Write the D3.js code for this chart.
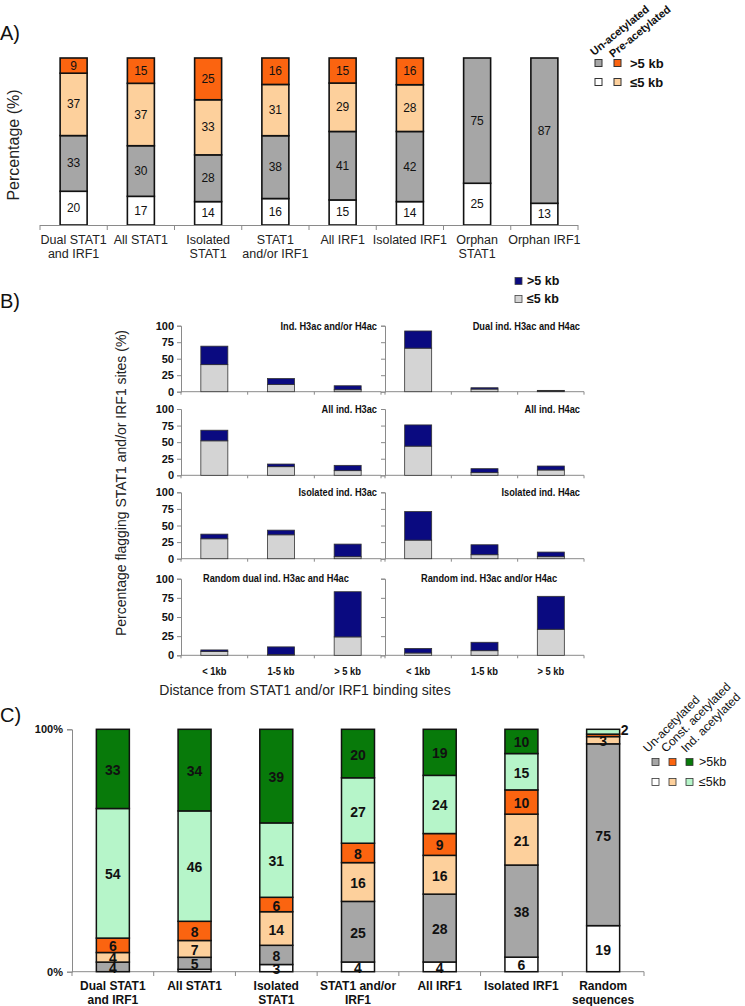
<!DOCTYPE html>
<html><head><meta charset="utf-8">
<script src="https://cdn.jsdelivr.net/npm/d3@7"></script>
<style>body{margin:0;background:#fff}svg{display:block}</style>
</head><body><svg id="c" width="745" height="1006"></svg>
<script>
// ---------------- DATA ----------------
// Panel A
const catsA = ["Dual STAT1 and IRF1","All STAT1","Isolated STAT1","STAT1 and/or IRF1","All IRF1","Isolated IRF1","Orphan STAT1","Orphan IRF1"];
const labelsA = [["Dual STAT1","and IRF1"],["All STAT1"],["Isolated","STAT1"],["STAT1","and/or IRF1"],["All IRF1"],["Isolated IRF1"],["Orphan","STAT1"],["Orphan IRF1"]];
const aUnLe5  = [20,17,14,16,15,14,25,13];
const aUnGt5  = [33,30,28,38,41,42,75,87];
const aPreLe5 = [37,37,33,31,29,28,0,0];
const aPreGt5 = [9,15,25,16,15,16,0,0];

// Panel B
const bPanels = ["Ind. H3ac and/or H4ac","Dual ind. H3ac and H4ac","All ind. H3ac","All ind. H4ac","Isolated ind. H3ac","Isolated ind. H4ac","Random dual ind. H3ac and H4ac","Random ind. H3ac and/or H4ac"];
const bDist = ["< 1kb","1-5 kb","> 5 kb"];
const bLe5 = [[41,11,3],[66,4,1],[52,13,7],[44,4,8],[30,36,3],[28,6,3],[5,1,24],[3,6,34]];
const bGt5 = [[28,9,6],[26,2,1],[16,4,8],[32,6,6],[7,7,19],[43,15,7],[2,10,59],[6,11,43]];
const bTicks = [0,25,50,75,100];

// Panel C
const catsC = ["Dual STAT1 and IRF1","All STAT1","Isolated STAT1","STAT1 and/or IRF1","All IRF1","Isolated IRF1","Random sequences"];
const labelsC = [["Dual STAT1","and IRF1"],["All STAT1"],["Isolated","STAT1"],["STAT1 and/or","IRF1"],["All IRF1"],["Isolated IRF1"],["Random","sequences"]];
const cUnLe5  = [0,1,3,4,4,6,19];
const cUnGt5  = [4,5,8,25,28,38,75];
const cConLe5 = [4,7,14,16,16,21,3];
const cConGt5 = [6,8,6,8,9,10,1];
const cIndLe5 = [54,46,31,27,24,15,2];
const cIndGt5 = [33,34,39,20,19,10,0];

// ---------------- STYLE ----------------
const COL = {white:"#ffffff", gray:"#a6a6a6", ltOrange:"#fdd09c", orange:"#fb6410",
             ltGreen:"#b6f5c9", green:"#087a0a", navy:"#0a0a80", ltGray:"#d4d4d4"};
const FA = "'Liberation Sans', Arial, sans-serif";
const AX = "#8a8a8a";
const svg = d3.select("#c");

function txt(g, x, y, s, o) {
  o = o || {};
  const t = g.append("text").attr("x", x).attr("y", y).text(s)
    .attr("font-family", o.f || FA).attr("font-size", o.s || 12)
    .attr("font-weight", o.w || "normal").attr("fill", o.c || "#111")
    .attr("text-anchor", o.a || "start")
    .attr("dominant-baseline", o.b || "auto")
    .attr("transform", o.t || null);
  if (o.n) { // condense (narrow font look)
    const L = t.node().getComputedTextLength();
    t.attr("textLength", L * o.n).attr("lengthAdjust", "spacingAndGlyphs");
  }
  return t;
}

// ---------------- PANEL A ----------------
txt(svg, 0, 40, "A)", {s:20});
const xA = d3.scaleBand().domain(catsA).range([40, 578]);
const yA = d3.scaleLinear().domain([0, 1]).range([225, 58]);
const keysA = ["unLe5","unGt5","preLe5","preGt5"];
const colA = {unLe5:COL.white, unGt5:COL.gray, preLe5:COL.ltOrange, preGt5:COL.orange};
const rowsA = catsA.map((c,i)=>({cat:c, unLe5:aUnLe5[i], unGt5:aUnGt5[i], preLe5:aPreLe5[i], preGt5:aPreGt5[i]}));
const stA = d3.stack().keys(keysA).offset(d3.stackOffsetExpand)(rowsA);
const bwA = 27;
const gA = svg.append("g");
stA.forEach(layer => {
  layer.forEach((d,i) => {
    const v = rowsA[i][layer.key];
    if (!v) return;
    const cx = xA(rowsA[i].cat) + xA.bandwidth()/2;
    gA.append("rect").attr("x", cx - bwA/2).attr("y", yA(d[1])).attr("width", bwA)
      .attr("height", yA(d[0]) - yA(d[1])).attr("fill", colA[layer.key])
      .attr("stroke", "#111").attr("stroke-width", 1.6);
    txt(gA, cx, (yA(d[0]) + yA(d[1]))/2, v, {s:12, a:"middle", b:"central"});
  });
});
gA.append("line").attr("x1", 40).attr("x2", 578).attr("y1", 225.5).attr("y2", 225.5).attr("stroke", AX);
catsA.concat([null]).forEach((c) => {
  const x = c === null ? xA.range()[1] : xA(c);
  gA.append("line").attr("x1", x).attr("x2", x).attr("y1", 225).attr("y2", 230).attr("stroke", AX);
});
labelsA.forEach((ls, i) => {
  const cx = xA(catsA[i]) + xA.bandwidth()/2;
  ls.forEach((l, j) => txt(gA, cx, 244 + j*14, l, {s:12.5, a:"middle", c:"#222"}));
});
txt(svg, 19, 145, "Percentage (%)", {s:16, a:"middle", c:"#222", t:"rotate(-90,19,145)"});
// legend A
txt(svg, 594, 56, "Un-acetylated", {s:11, w:"bold", t:"rotate(-39,594,56)"});
txt(svg, 613, 58, "Pre-acetylated", {s:11, w:"bold", t:"rotate(-39,613,58)"});
[[COL.gray, COL.orange, ">5 kb", 63],[COL.white, COL.ltOrange, "≤5 kb", 82]].forEach(r => {
  svg.append("rect").attr("x", 595).attr("y", r[3]-3.5).attr("width", 7).attr("height", 7).attr("fill", r[0]).attr("stroke", "#333").attr("stroke-width", 1);
  svg.append("rect").attr("x", 614).attr("y", r[3]-3.5).attr("width", 7).attr("height", 7).attr("fill", r[1]).attr("stroke", "#333").attr("stroke-width", 1);
  txt(svg, 630, r[3], r[2], {s:13, w:"bold", b:"central"});
});

// ---------------- PANEL B ----------------
txt(svg, 0, 308, "B)", {s:20});
[[COL.navy, ">5 kb", 281],[COL.ltGray, "≤5 kb", 299]].forEach(r => {
  svg.append("rect").attr("x", 515).attr("y", r[2]-3.5).attr("width", 7).attr("height", 7).attr("fill", r[0]).attr("stroke", "#444").attr("stroke-width", 0.8);
  txt(svg, 527, r[2], r[1], {s:12.5, w:"bold", b:"central"});
});
const rowsB = [[325.7, 391.7],[409, 475.3],[492.3, 558.7],[578.7, 655.3]];
const colsB = [[181, 381],[385, 584]];
const bwB = 27;
bPanels.forEach((title, p) => {
  const r = Math.floor(p/2), c = p % 2;
  const [top, bot] = rowsB[r], [x0, x1] = colsB[c];
  const xB = d3.scaleBand().domain(bDist).range([x0, x1]);
  const yB = d3.scaleLinear().domain([0, 100]).range([bot, top]);
  const g = svg.append("g");
  const ya = d3.axisLeft(yB).tickValues(bTicks).tickSize(4).tickPadding(3);
  if (c === 1) ya.tickFormat("");
  const yg = g.append("g").attr("transform", `translate(${x0},0)`).call(ya);
  yg.select(".domain").attr("stroke", AX);
  yg.selectAll(".tick line").attr("stroke", AX);
  yg.selectAll(".tick text").attr("font-family", FA).attr("font-weight", "bold").attr("font-size", 11).attr("fill", "#111");
  g.append("line").attr("x1", x0).attr("x2", x1).attr("y1", bot).attr("y2", bot).attr("stroke", AX);
  bDist.concat([null]).forEach(d => {
    const x = d === null ? x1 : xB(d);
    g.append("line").attr("x1", x).attr("x2", x).attr("y1", bot).attr("y2", bot+3).attr("stroke", AX);
  });
  bDist.forEach((d, i) => {
    const cx = xB(d) + xB.bandwidth()/2;
    const le = bLe5[p][i], gt = bGt5[p][i];
    g.append("rect").attr("x", cx - bwB/2).attr("y", yB(le)).attr("width", bwB).attr("height", yB(0) - yB(le))
      .attr("fill", COL.ltGray).attr("stroke", "#333").attr("stroke-width", 0.8);
    g.append("rect").attr("x", cx - bwB/2).attr("y", yB(le + gt)).attr("width", bwB).attr("height", yB(le) - yB(le + gt))
      .attr("fill", COL.navy).attr("stroke", "#333").attr("stroke-width", 0.8);
    if (r === 3) txt(g, cx, 675, d, {s:11, w:"bold", a:"middle", n:0.85});
  });
  if (r < 3) txt(g, x1 - 4, top, title, {s:11, w:"bold", a:"end", b:"central", n:0.84});
  else txt(g, c === 0 ? 203 : 421, top - 1, title, {s:11, w:"bold", b:"central", n:0.84});
});
txt(svg, 126, 483, "Percentage flagging STAT1 and/or IRF1 sites (%)", {s:14, a:"middle", c:"#222", t:"rotate(-90,126,483)"});
txt(svg, 305, 695, "Distance from STAT1 and/or IRF1 binding sites", {s:14, a:"middle", c:"#222"});

// ---------------- PANEL C ----------------
txt(svg, 0, 722, "C)", {s:20});
const xC = d3.scaleBand().domain(catsC).range([72, 644]);
const yC = d3.scaleLinear().domain([0, 1]).range([971.7, 729.3]);
const keysC = ["unLe5","unGt5","conLe5","conGt5","indLe5","indGt5"];
const colC = {unLe5:COL.white, unGt5:COL.gray, conLe5:COL.ltOrange, conGt5:COL.orange, indLe5:COL.ltGreen, indGt5:COL.green};
const rowsC = catsC.map((c,i)=>({cat:c, unLe5:cUnLe5[i], unGt5:cUnGt5[i], conLe5:cConLe5[i], conGt5:cConGt5[i], indLe5:cIndLe5[i], indGt5:cIndGt5[i]}));
const stC = d3.stack().keys(keysC).offset(d3.stackOffsetExpand)(rowsC);
const bwC = 33;
const gC = svg.append("g");
const yaC = d3.axisLeft(yC).tickValues([0, 1]).tickFormat(d3.format(".0%")).tickSize(5).tickPadding(4);
const ygC = gC.append("g").attr("transform", "translate(72,0)").call(yaC);
ygC.select(".domain").attr("stroke", AX);
ygC.selectAll(".tick line").attr("stroke", AX);
ygC.selectAll(".tick text").attr("font-family", FA).attr("font-weight", "bold").attr("font-size", 11).attr("fill", "#111");
gC.append("line").attr("x1", 72).attr("x2", 644).attr("y1", 971.7).attr("y2", 971.7).attr("stroke", AX);
catsC.concat([null]).forEach(c => {
  const x = c === null ? 644 : xC(c);
  gC.append("line").attr("x1", x).attr("x2", x).attr("y1", 971.7).attr("y2", 976).attr("stroke", AX);
});
stC.forEach(layer => {
  layer.forEach((d, i) => {
    const v = rowsC[i][layer.key];
    if (!v) return;
    const cx = xC(rowsC[i].cat) + xC.bandwidth()/2;
    gC.append("rect").attr("x", cx - bwC/2).attr("y", yC(d[1])).attr("width", bwC)
      .attr("height", yC(d[0]) - yC(d[1])).attr("fill", colC[layer.key])
      .attr("stroke", "#111").attr("stroke-width", 1.5);
  });
});
stC.forEach(layer => {
  layer.forEach((d, i) => {
    const v = rowsC[i][layer.key];
    const cx = xC(rowsC[i].cat) + xC.bandwidth()/2;
    const cy = (yC(d[0]) + yC(d[1]))/2;
    if (v >= 3) txt(gC, cx, cy + 1, v, {s:14, w:"bold", a:"middle", b:"central"});
    else if (v === 2) txt(gC, cx + bwC/2 + 1, cy - 2, v, {s:14, w:"bold", b:"central"});
  });
});
labelsC.forEach((ls, i) => {
  const cx = xC(catsC[i]) + xC.bandwidth()/2;
  ls.forEach((l, j) => txt(gC, cx, 990 + j*14, l, {s:12, w:"bold", a:"middle"}));
});
// legend C
[["Un-acetylated", 648], ["Const. acetylated", 666], ["Ind. acetylated", 686]].forEach(l => {
  txt(svg, l[1], 753, l[0], {s:12, t:`rotate(-45,${l[1]},753)`});
});
[[COL.gray, COL.orange, COL.green, ">5kb", 762],[COL.white, COL.ltOrange, COL.ltGreen, "≤5kb", 782]].forEach(r => {
  [652, 669, 686].forEach((x, k) => {
    svg.append("rect").attr("x", x).attr("y", r[4]-3.5).attr("width", 7).attr("height", 7).attr("fill", r[k]).attr("stroke", "#333").attr("stroke-width", 0.8);
  });
  txt(svg, 699, r[4], r[3], {s:12.5, b:"central"});
});
</script></body></html>
